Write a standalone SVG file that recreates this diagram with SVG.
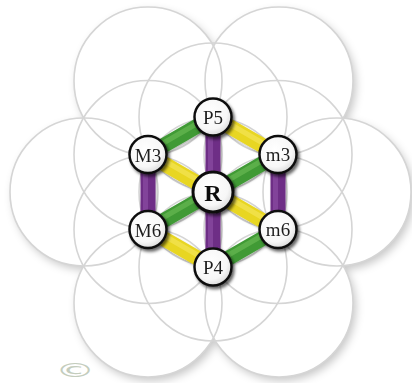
<svg xmlns="http://www.w3.org/2000/svg" width="412" height="383" viewBox="0 0 412 383">
  <defs>
    <filter id="outerShadow" x="-20%" y="-20%" width="140%" height="140%">
      <feDropShadow dx="3" dy="4" stdDeviation="4" flood-color="#000" flood-opacity="0.22"/>
    </filter>
    <filter id="nodeShadow" x="-40%" y="-40%" width="180%" height="180%">
      <feDropShadow dx="2" dy="2.5" stdDeviation="1.8" flood-color="#000" flood-opacity="0.6"/>
    </filter>
    <filter id="barShadow" x="-30%" y="-30%" width="160%" height="160%">
      <feDropShadow dx="1" dy="1.5" stdDeviation="1.2" flood-color="#000" flood-opacity="0.3"/>
    </filter>
    <radialGradient id="nodeFill" cx="0.42" cy="0.38" r="0.65">
      <stop offset="0" stop-color="#ffffff"/>
      <stop offset="0.7" stop-color="#f7f7f7"/>
      <stop offset="1" stop-color="#d9d9d9"/>
    </radialGradient>
  </defs>
  <style>
    .ring { fill: none; stroke: #d5d5d5; stroke-width: 1.6; }
    .bar { stroke-width: 15; stroke-linecap: round; fill: none; }
    .hl { stroke-width: 5; stroke-linecap: round; fill: none; opacity: 0.35; }
    .green { stroke: #3f9a35; }
    .green-hl { stroke: #8fd76f; }
    .yellow { stroke: #e8d624; }
    .yellow-hl { stroke: #fff38a; }
    .purple { stroke: #6e2f86; }
    .purple-hl { stroke: #a86bbf; }
    .node circle { fill: url(#nodeFill); stroke: #111; stroke-width: 2.5; }
    .node text { font-family: "Liberation Serif", "Times New Roman", serif; font-size: 19px; fill: #1e1e1e; text-anchor: middle; dominant-baseline: central; }
    .root circle { stroke-width: 3; }
    .root text { font-size: 24px; font-weight: bold; fill: #111; }
  </style>
  <rect width="412" height="383" fill="#ffffff"/>

  <!-- background flower of circles -->
  <g id="flower">
    <g filter="url(#outerShadow)" fill="#ffffff">
      <circle cx="148" cy="81" r="74"/>
      <circle cx="279" cy="81" r="74"/>
      <circle cx="84" cy="192" r="74"/>
      <circle cx="337" cy="192" r="74"/>
      <circle cx="148" cy="303" r="74"/>
      <circle cx="279" cy="303" r="74"/>
      <circle cx="213" cy="192" r="80"/>
    </g>
    <g class="ring">
      <circle cx="148" cy="81" r="74"/>
      <circle cx="279" cy="81" r="74"/>
      <circle cx="84" cy="192" r="74"/>
      <circle cx="337" cy="192" r="74"/>
      <circle cx="148" cy="303" r="74"/>
      <circle cx="279" cy="303" r="74"/>
      <circle cx="213" cy="117" r="74"/>
      <circle cx="148" cy="154.5" r="74"/>
      <circle cx="278" cy="154.5" r="74"/>
      <circle cx="148" cy="229.5" r="74"/>
      <circle cx="278" cy="229.5" r="74"/>
      <circle cx="213" cy="267" r="74"/>
      <circle cx="213" cy="192" r="74"/>
    </g>
  </g>

  <!-- connectors -->
  <g id="connectors" filter="url(#barShadow)">
    <line class="bar green" x1="213" y1="117" x2="148" y2="154.5"/>
    <line class="bar yellow" x1="213" y1="117" x2="278" y2="154.5"/>
    <line class="bar purple" x1="213" y1="117" x2="213" y2="192"/>
    <line class="bar yellow" x1="148" y1="154.5" x2="213" y2="192"/>
    <line class="bar green" x1="278" y1="154.5" x2="213" y2="192"/>
    <line class="bar purple" x1="148" y1="154.5" x2="148" y2="229.5"/>
    <line class="bar purple" x1="278" y1="154.5" x2="278" y2="229.5"/>
    <line class="bar green" x1="213" y1="192" x2="148" y2="229.5"/>
    <line class="bar yellow" x1="213" y1="192" x2="278" y2="229.5"/>
    <line class="bar purple" x1="213" y1="192" x2="213" y2="267"/>
    <line class="bar yellow" x1="148" y1="229.5" x2="213" y2="267"/>
    <line class="bar green" x1="278" y1="229.5" x2="213" y2="267"/>
  </g>
  <g id="connector-highlights">
    <line class="hl green-hl" x1="211" y1="115.5" x2="146" y2="153"/>
    <line class="hl yellow-hl" x1="215" y1="115.5" x2="280" y2="153"/>
    <line class="hl purple-hl" x1="210.5" y1="117" x2="210.5" y2="192"/>
    <line class="hl yellow-hl" x1="149" y1="152" x2="214" y2="189.5"/>
    <line class="hl green-hl" x1="277" y1="152" x2="212" y2="189.5"/>
    <line class="hl purple-hl" x1="145.5" y1="154.5" x2="145.5" y2="229.5"/>
    <line class="hl purple-hl" x1="275.5" y1="154.5" x2="275.5" y2="229.5"/>
    <line class="hl green-hl" x1="212" y1="189.5" x2="147" y2="227"/>
    <line class="hl yellow-hl" x1="214" y1="189.5" x2="279" y2="227"/>
    <line class="hl purple-hl" x1="210.5" y1="192" x2="210.5" y2="267"/>
    <line class="hl yellow-hl" x1="149" y1="227" x2="214" y2="264.5"/>
    <line class="hl green-hl" x1="277" y1="227" x2="212" y2="264.5"/>
  </g>

  <!-- nodes -->
  <g id="node-P5" class="node" filter="url(#nodeShadow)">
    <circle cx="213" cy="117" r="18.5"/>
    <text x="213" y="117.5">P5</text>
  </g>
  <g id="node-M3" class="node" filter="url(#nodeShadow)">
    <circle cx="148" cy="154.5" r="18.5"/>
    <text x="148" y="155">M3</text>
  </g>
  <g id="node-m3" class="node" filter="url(#nodeShadow)">
    <circle cx="278" cy="154.5" r="18.5"/>
    <text x="278" y="154">m3</text>
  </g>
  <g id="node-R" class="node root" filter="url(#nodeShadow)">
    <circle cx="213" cy="192" r="20"/>
    <text x="213" y="192.5">R</text>
  </g>
  <g id="node-M6" class="node" filter="url(#nodeShadow)">
    <circle cx="148" cy="229.5" r="18.5"/>
    <text x="148" y="230">M6</text>
  </g>
  <g id="node-m6" class="node" filter="url(#nodeShadow)">
    <circle cx="278" cy="229.5" r="18.5"/>
    <text x="278" y="229">m6</text>
  </g>
  <g id="node-P4" class="node" filter="url(#nodeShadow)">
    <circle cx="213" cy="267" r="18.5"/>
    <text x="213" y="267.5">P4</text>
  </g>

  <!-- copyright mark -->
  <text x="0" y="0" transform="translate(75 377) scale(1.75 0.85)" font-family="'DejaVu Sans', sans-serif" font-size="23" fill="#c4cdbd" text-anchor="middle">©</text>
</svg>
